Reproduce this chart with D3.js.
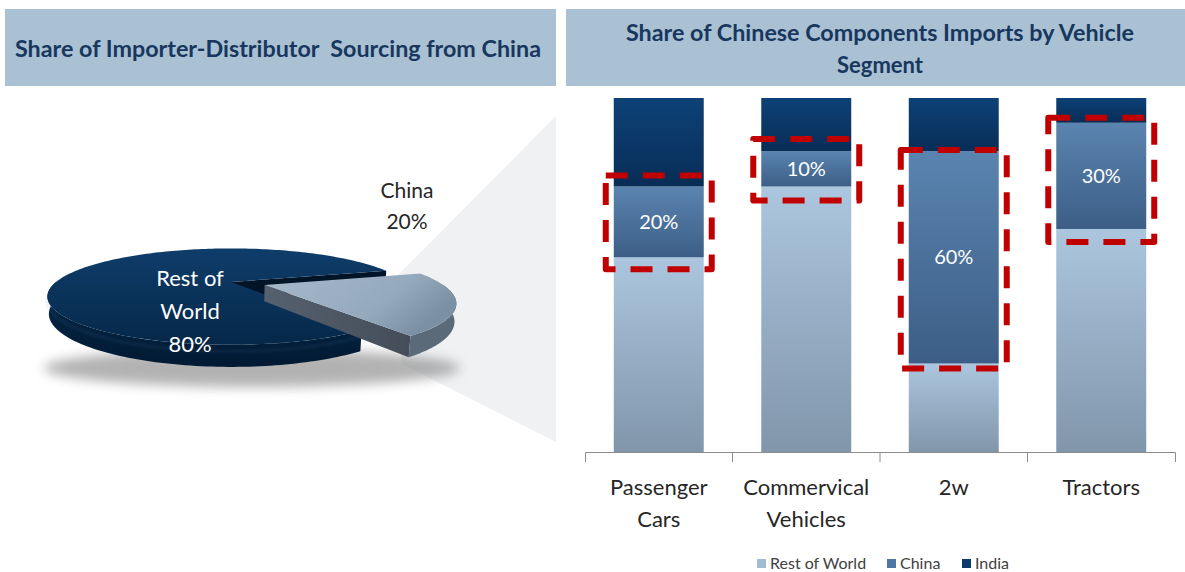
<!DOCTYPE html>
<html>
<head>
<meta charset="utf-8">
<script src="https://cdn.jsdelivr.net/npm/d3@7"></script>
<style>
  html, body { margin: 0; padding: 0; background: #fff; }
  svg { display: block; font-family: Lato, "Open Sans", sans-serif; }
</style>
</head>
<body>
<svg id="chart" width="1185" height="572"></svg>
<script>
// ---- data ----
const pieLabels = ["China", "Rest of World"];
const pieValues = [20, 80];

const segments = ["Passenger Cars", "Commervical Vehicles", "2w", "Tractors"];
const segmentLines = [["Passenger", "Cars"], ["Commervical", "Vehicles"], ["2w"], ["Tractors"]];
const seriesNames = ["Rest of World", "China", "India"];
const restOfWorld = [55, 75, 25, 63];
const china = [20, 10, 60, 30];
const india = [25, 15, 15, 7];

const leftTitle = "Share of Importer-Distributor  Sourcing from China";
const rightTitle = ["Share of Chinese Components Imports by Vehicle", "Segment"];

// ---- setup ----
const svg = d3.select("#chart");
const defs = svg.append("defs");

function vGrad(id, top, bottom) {
  const g = defs.append("linearGradient").attr("id", id)
    .attr("x1", 0).attr("y1", 0).attr("x2", 0).attr("y2", 1);
  g.append("stop").attr("offset", "0%").attr("stop-color", top);
  g.append("stop").attr("offset", "100%").attr("stop-color", bottom);
}
vGrad("gRest", "#abc6de", "#8196ab");
vGrad("gChina", "#5a84b0", "#3c5e86");
vGrad("gIndia", "#0d4177", "#082d56");
vGrad("gPieDark", "#0f3d6a", "#052849");
vGrad("gPieRim", "#052849", "#021a33");
const hg = defs.append("linearGradient").attr("id", "gPieLight")
  .attr("x1", 0).attr("y1", 0).attr("x2", 1).attr("y2", 0.4);
hg.append("stop").attr("offset", "0%").attr("stop-color", "#a6b9cb");
hg.append("stop").attr("offset", "70%").attr("stop-color", "#95a9bd");
hg.append("stop").attr("offset", "100%").attr("stop-color", "#7c90a4");
const cg = defs.append("linearGradient").attr("id", "gPieCut")
  .attr("x1", 0).attr("y1", 0).attr("x2", 1).attr("y2", 0);
cg.append("stop").attr("offset", "0%").attr("stop-color", "#56616f");
cg.append("stop").attr("offset", "100%").attr("stop-color", "#444d59");

defs.append("filter").attr("id", "blur").attr("x", "-20%").attr("y", "-60%")
  .attr("width", "140%").attr("height", "220%")
  .append("feGaussianBlur").attr("stdDeviation", 6);
defs.append("filter").attr("id", "soft").attr("x", "-10%").attr("y", "-50%")
  .attr("width", "120%").attr("height", "200%")
  .append("feGaussianBlur").attr("stdDeviation", 1.5);

// ---- header bands ----
const headColor = "#aac0d3";
const titleColor = "#17375e";
svg.append("rect").attr("x", 5).attr("y", 9).attr("width", 551).attr("height", 77).attr("fill", headColor);
svg.append("rect").attr("x", 566).attr("y", 9).attr("width", 625).attr("height", 77).attr("fill", headColor);

svg.append("text").attr("x", 15).attr("y", 57)
  .attr("font-size", 23).attr("font-weight", 700).attr("fill", titleColor)
  .attr("textLength", 526).attr("lengthAdjust", "spacingAndGlyphs")
  .attr("xml:space", "preserve")
  .text(leftTitle);

svg.append("text").attr("x", 880).attr("y", 41).attr("text-anchor", "middle")
  .attr("font-size", 23).attr("font-weight", 700).attr("fill", titleColor)
  .attr("textLength", 508).attr("lengthAdjust", "spacingAndGlyphs")
  .text(rightTitle[0]);
svg.append("text").attr("x", 880).attr("y", 73).attr("text-anchor", "middle")
  .attr("font-size", 23).attr("font-weight", 700).attr("fill", titleColor)
  .attr("textLength", 86).attr("lengthAdjust", "spacingAndGlyphs")
  .text(rightTitle[1]);

// ---- zoom wedge linking the China slice to the bar panel ----
svg.append("path")
  .attr("d", d3.line()([[392, 281], [556, 116], [556, 442], [402, 364]]))
  .attr("fill", "#eff1f3");

// ---- 3D pie (perspective projection of d3.pie angles) ----
const P = { cx: 231, cy: 282, S: 175, D: 3.2, sinT: 0.25, h: 0.095 };
P.cosT = Math.sqrt(1 - P.sinT * P.sinT);

function projXYZ(X, Y, Z) {
  const d = P.D - Z * P.cosT - Y * P.sinT;
  return [P.cx + P.S * X * P.D / d, P.cy + P.S * (Z * P.sinT - Y * P.cosT) * P.D / d];
}
function proj(theta, Y, off) {
  return projXYZ(Math.cos(theta) + off[0], Y, Math.sin(theta) + off[1]);
}
function arcPts(a, b, Y, off, n = 100) {
  const pts = [];
  for (let i = 0; i <= n; i++) pts.push(proj(a + (b - a) * i / n, Y, off));
  return pts;
}
const line = d3.line();

const startA = 74 * Math.PI / 180;
const arcs = d3.pie().sort(null).startAngle(startA).endAngle(startA + 2 * Math.PI)(pieValues);
// d3.pie angles start at 12 o'clock going clockwise; theta starts at 3 o'clock
const slices = arcs.map((a, i) => ({
  label: pieLabels[i],
  t0: a.startAngle - Math.PI / 2,
  t1: a.endAngle - Math.PI / 2
}));

// soft floor shadow
svg.append("ellipse").attr("cx", 252).attr("cy", 368).attr("rx", 208).attr("ry", 19)
  .attr("fill", "#8a8a8a").attr("opacity", 0.65).attr("filter", "url(#blur)");

const pieG = svg.append("g");
const H = -P.h;

function drawSlice(s, off, colors) {
  const c0 = projXYZ(off[0], 0, off[1]);
  const c1 = projXYZ(off[0], H, off[1]);
  const e0 = proj(s.t1, 0, off), e1 = proj(s.t1, H, off);
  if (colors.endFace) pieG.append("path").attr("d", line([c0, e0, e1, c1]) + "Z").attr("fill", colors.endFace);
  // outer rim on the near half
  const ra = Math.max(s.t0, 0), rb = Math.min(s.t1, Math.PI);
  if (rb > ra) {
    const top = arcPts(ra, rb, 0, off), bot = arcPts(ra, rb, H, off).reverse();
    pieG.append("path").attr("d", line(top.concat(bot)) + "Z").attr("fill", colors.rim);
    if (colors.bevel) {
      pieG.append("path").attr("d", line(arcPts(ra, rb, H * 0.3, off)))
        .attr("fill", "none").attr("stroke", colors.bevel).attr("stroke-width", 1.5)
        .attr("opacity", 0.25).attr("filter", "url(#soft)");
    }
  }
  // top face
  const face = [c0].concat(arcPts(s.t0, s.t1, 0, off, 200));
  pieG.append("path").attr("d", line(face) + "Z").attr("fill", colors.top);
}

const chinaS = slices[0];
const rest = slices[1];
// Rest of World stays in place; its cut face toward China is in view
drawSlice(rest, [0, 0], { endFace: "#021427", rim: "url(#gPieRim)", top: "url(#gPieDark)", bevel: "#4a72a0" });
// China pulled out along its mid angle
const mid = (chinaS.t0 + chinaS.t1) / 2;
const ex = 0.2;
drawSlice(chinaS, [ex * Math.cos(mid), ex * Math.sin(mid)],
  { endFace: "url(#gPieCut)", rim: "#5b6a79", top: "url(#gPieLight)" });

// pie labels
const restLab = svg.append("text").attr("text-anchor", "middle").attr("fill", "#ffffff")
  .attr("font-size", 22);
["Rest of", "World", pieValues[1] + "%"].forEach((t, i) => {
  restLab.append("tspan").attr("x", 190).attr("y", 286 + i * 33).text(t);
});
const chinaLab = svg.append("text").attr("text-anchor", "middle").attr("fill", "#262626")
  .attr("font-size", 21);
[chinaS.label, pieValues[0] + "%"].forEach((t, i) => {
  chinaLab.append("tspan").attr("x", 407).attr("y", 198 + i * 31).text(t);
});

// ---- stacked bars ----
const x = d3.scaleBand().domain(segments).range([585, 1175]).paddingInner(0.39).paddingOuter(0.195);
const y = d3.scaleLinear().domain([0, 100]).range([452, 98]);

const stackData = segments.map((s, i) => ({
  seg: s, "Rest of World": restOfWorld[i], "China": china[i], "India": india[i]
}));
const stacked = d3.stack().keys(seriesNames)(stackData);
const fills = { "Rest of World": "url(#gRest)", "China": "url(#gChina)", "India": "url(#gIndia)" };

const barG = svg.append("g");
stacked.forEach(layer => {
  barG.selectAll(null).data(layer).enter().append("rect")
    .attr("x", d => x(d.data.seg))
    .attr("width", x.bandwidth())
    .attr("y", d => y(d[1]))
    .attr("height", d => y(d[0]) - y(d[1]))
    .attr("fill", fills[layer.key]);
});

// China value labels
const chinaLayer = stacked[1];
barG.selectAll(null).data(chinaLayer).enter().append("text")
  .attr("x", d => x(d.data.seg) + x.bandwidth() / 2)
  .attr("y", d => (y(d[0]) + y(d[1])) / 2 + 7)
  .attr("text-anchor", "middle").attr("fill", "#ffffff").attr("font-size", 20)
  .text(d => d.data.China + "%");

// red dashed highlight around each China segment
const padTop = [11, 12, 1, 5];
const padBot = [12, 14, 5, 13];
const padX = 8;
chinaLayer.forEach((d, i) => {
  const x0 = x(d.data.seg) - padX, x1 = x(d.data.seg) + x.bandwidth() + padX;
  const y0 = y(d[1]) - padTop[i], y1 = y(d[0]) + padBot[i];
  barG.append("path")
    .attr("d", line([[x0, y0], [x1, y0], [x1, y1], [x0, y1]]) + "Z")
    .attr("fill", "none").attr("stroke", "#c00000").attr("stroke-width", 6)
    .attr("stroke-dasharray", "22,15").attr("stroke-linejoin", "round");
});

// ---- category axis ----
const axis = svg.append("g").attr("transform", "translate(0,452)")
  .call(d3.axisBottom(x).tickSize(0).tickSizeOuter(10).tickFormat(""));
axis.select(".domain").attr("stroke", "#8c8c8c").attr("stroke-width", 1);
segments.slice(1).forEach(s => {
  const bx = x(s) - x.step() * x.paddingInner() / 2;
  axis.append("line").attr("x1", bx).attr("x2", bx).attr("y1", 0).attr("y2", 10)
    .attr("stroke", "#8c8c8c");
});

segments.forEach((s, i) => {
  const t = svg.append("text").attr("text-anchor", "middle").attr("fill", "#262626").attr("font-size", 22);
  segmentLines[i].forEach((ln, j) => {
    t.append("tspan").attr("x", x(s) + x.bandwidth() / 2).attr("y", 495 + j * 32).text(ln);
  });
});

// ---- legend ----
const legendColors = ["#a3bbd2", "#4d76a3", "#0b3a6e"];
const legendX = [757, 887, 962];
const legend = svg.append("g");
seriesNames.forEach((n, i) => {
  legend.append("rect").attr("x", legendX[i]).attr("y", 559).attr("width", 9).attr("height", 9)
    .attr("fill", legendColors[i]);
  legend.append("text").attr("x", legendX[i] + 13).attr("y", 569).attr("font-size", 16)
    .attr("fill", "#404040").text(n);
});
</script>
</body>
</html>
